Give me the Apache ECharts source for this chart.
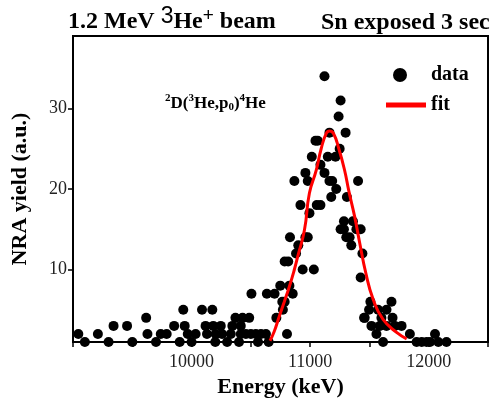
<!DOCTYPE html>
<html>
<head>
<meta charset="utf-8">
<script src="https://cdn.jsdelivr.net/npm/echarts@6/dist/echarts.min.js"></script>
<style>
  html, body { margin: 0; padding: 0; background: #fff; }
  #chart { width: 493px; height: 404px; }
</style>
</head>
<body>
<div id="chart"></div>
<script>
// measured spectrum (energy in keV, yield in a.u.)
const dataEnergy = [
  9045, 9100, 9210, 9300, 9342, 9456, 9500, 9617, 9628, 9700, 9740, 9790, 9853, 9900, 9930, 9942, 9968, 10000, 10034,
  10088, 10118, 10130, 10175, 10183, 10200, 10203, 10246, 10257, 10300, 10331, 10344, 10370, 10400, 10415, 10415,
  10430, 10458, 10486, 10500, 10505, 10542, 10560, 10585, 10627, 10635, 10650, 10700, 10715, 10748, 10765,
  10770, 10785, 10785, 10805, 10815, 10825, 10830, 10853, 10867, 10881, 10900, 10918, 10937, 10960, 10960,
  10980, 10980, 10994, 11014, 11031, 11045, 11056, 11064, 11087, 11087, 11121, 11121, 11149, 11163, 11163,
  11178, 11186, 11214, 11220, 11240, 11249, 11257, 11257, 11285, 11285, 11299, 11305, 11310, 11333, 11347,
  11361, 11390, 11404, 11426, 11426, 11441, 11455, 11460, 11497, 11508, 11517, 11559, 11573, 11588, 11601,
  11615, 11644, 11644, 11686, 11695, 11715, 11771, 11841, 11898, 11941, 11983, 12011, 12053, 12081, 12150
];
const dataYield = [
  2, 1, 2, 1, 3, 3, 1, 4, 2, 1, 2, 2, 3, 1, 5, 3, 2, 1, 2,
  5, 3, 2, 5, 3, 1, 2, 3, 2, 1, 2, 3, 4, 1, 3, 2,
  4, 2, 4, 2, 7, 2, 1, 2, 2, 7, 1, 7, 4, 8, 6,
  5, 6, 11, 2, 11, 8, 14, 7, 21, 12, 13, 18, 10, 14, 22,
  14, 21, 17, 24, 10, 26, 18, 26, 18, 23, 34, 22, 24, 27, 21,
  19, 21, 24, 20, 29, 25, 31, 15, 16, 15, 27, 14, 19, 14, 13,
  16, 15, 21, 15, 9, 12, 4, 4, 5, 6, 3, 2, 5, 3, 4,
  1, 5, 3, 6, 4, 3, 3, 2, 1, 1, 1, 1, 2, 1, 1
];

// fitted curve
const fitEnergy = [10661, 10697, 10740, 10782, 10825, 10867, 10895, 10952, 10994, 11051, 11093, 11136, 11164,
  11197, 11242, 11291, 11327, 11375, 11418, 11469, 11531, 11615, 11729, 11814];
const fitYield = [1.15, 2.3, 4.2, 6.0, 7.9, 10.0, 11.6, 14.9, 19.5, 22.3, 25.0, 26.9, 27.2,
  26.9, 25.0, 22.3, 19.7, 16.6, 13.3, 9.6, 6.3, 3.8, 2.2, 1.4];

const xTickLabels = [10000, 11000, 12000];
const yTickLabels = [10, 20, 30];

const serif = '"Liberation Serif", "DejaVu Serif", serif';

let chart = echarts.init(document.getElementById('chart'));
chart.setOption({
  animation: false,
  grid: {
    left: 73, right: 5, top: 36, bottom: 62,
    show: true, borderColor: '#000', borderWidth: 2
  },
  legend: {
    orient: 'vertical',
    left: 381, top: 60,
    itemWidth: 40, itemHeight: 14, itemGap: 10,
    textStyle: { fontFamily: serif, fontWeight: 'bold', fontSize: 20, color: '#000' },
    data: [
      // dot sits left in the icon box, like the original
      { name: 'data', icon: 'path://M0,7L0,7M40,7L40,7M7,7A7,7,0,1,1,21,7A7,7,0,1,1,7,7Z' },
      { name: 'fit', icon: 'path://M0,0 L40,0 L40,5 L0,5 Z' }
    ]
  },
  xAxis: {
    type: 'value',
    min: 9000, max: 12500, interval: 500,
    name: 'Energy (keV)',
    nameLocation: 'middle', nameGap: 34,
    nameTextStyle: { fontFamily: serif, fontWeight: 'bold', fontSize: 22, color: '#000' },
    axisLine: { lineStyle: { color: '#000', width: 2 } },
    axisTick: { length: 5, lineStyle: { color: '#000', width: 1.5 } },
    axisLabel: {
      customValues: xTickLabels,
      formatter: v => String(v),
      fontFamily: serif, fontSize: 18, color: '#222', margin: 11
    },
    splitLine: { show: false }
  },
  yAxis: {
    type: 'value',
    min: 1, max: 39,
    name: 'NRA yield (a.u.)',
    nameLocation: 'middle', nameGap: 42,
    nameTextStyle: { fontFamily: serif, fontWeight: 'bold', fontSize: 22, color: '#000' },
    axisLine: { show: true, lineStyle: { color: '#000', width: 2 } },
    axisTick: { show: true, length: 5, customValues: yTickLabels, lineStyle: { color: '#000', width: 1.5 } },
    axisLabel: {
      customValues: yTickLabels,
      fontFamily: serif, fontSize: 18, color: '#222', margin: 6
    },
    splitLine: { show: false }
  },
  graphic: [
    {
      type: 'text', left: 68, top: 5,
      style: {
        text: '{a|1.2 MeV }{b|3}{a|He}{c|+}{a| beam}',
        rich: {
          a: { fontFamily: serif, fontWeight: 'bold', fontSize: 24, fill: '#000' },
          b: { fontFamily: '"Liberation Sans", sans-serif', fontSize: 23, fill: '#000', padding: [0, 0, 11, 0] },
          c: { fontFamily: '"Liberation Sans", sans-serif', fontSize: 19, fill: '#000', padding: [0, 0, 13, 0] }
        }
      }
    },
    {
      type: 'text', left: 321, top: 11,
      style: { text: 'Sn exposed 3 sec', font: 'bold 24px ' + serif, fill: '#000' }
    },
    {
      type: 'text', left: 165, top: 93,
      style: {
        text: '{s|2}{a|D(}{s|3}{a|He,p}{u|0}{a|)}{s|4}{a|He}',
        rich: {
          a: { fontFamily: serif, fontWeight: 'bold', fontSize: 17, fill: '#000' },
          s: { fontFamily: serif, fontWeight: 'bold', fontSize: 11, fill: '#000', padding: [0, 0, 10, 0] },
          u: { fontFamily: serif, fontWeight: 'bold', fontSize: 11, fill: '#000', padding: [8, 0, 0, 0] }
        }
      }
    }
  ],
  series: [
    {
      name: 'data',
      type: 'scatter',
      symbol: 'circle',
      symbolSize: 10,
      itemStyle: { color: '#000', opacity: 1 },
      data: dataEnergy.map((e, i) => [e, dataYield[i]])
    },
    {
      name: 'fit',
      type: 'line',
      smooth: true,
      showSymbol: false,
      symbol: 'none',
      clip: true,
      lineStyle: { color: '#ff0000', width: 3 },
      itemStyle: { color: '#ff0000' },
      data: fitEnergy.map((e, i) => [e, fitYield[i]])
    }
  ]
});
</script>
</body>
</html>
